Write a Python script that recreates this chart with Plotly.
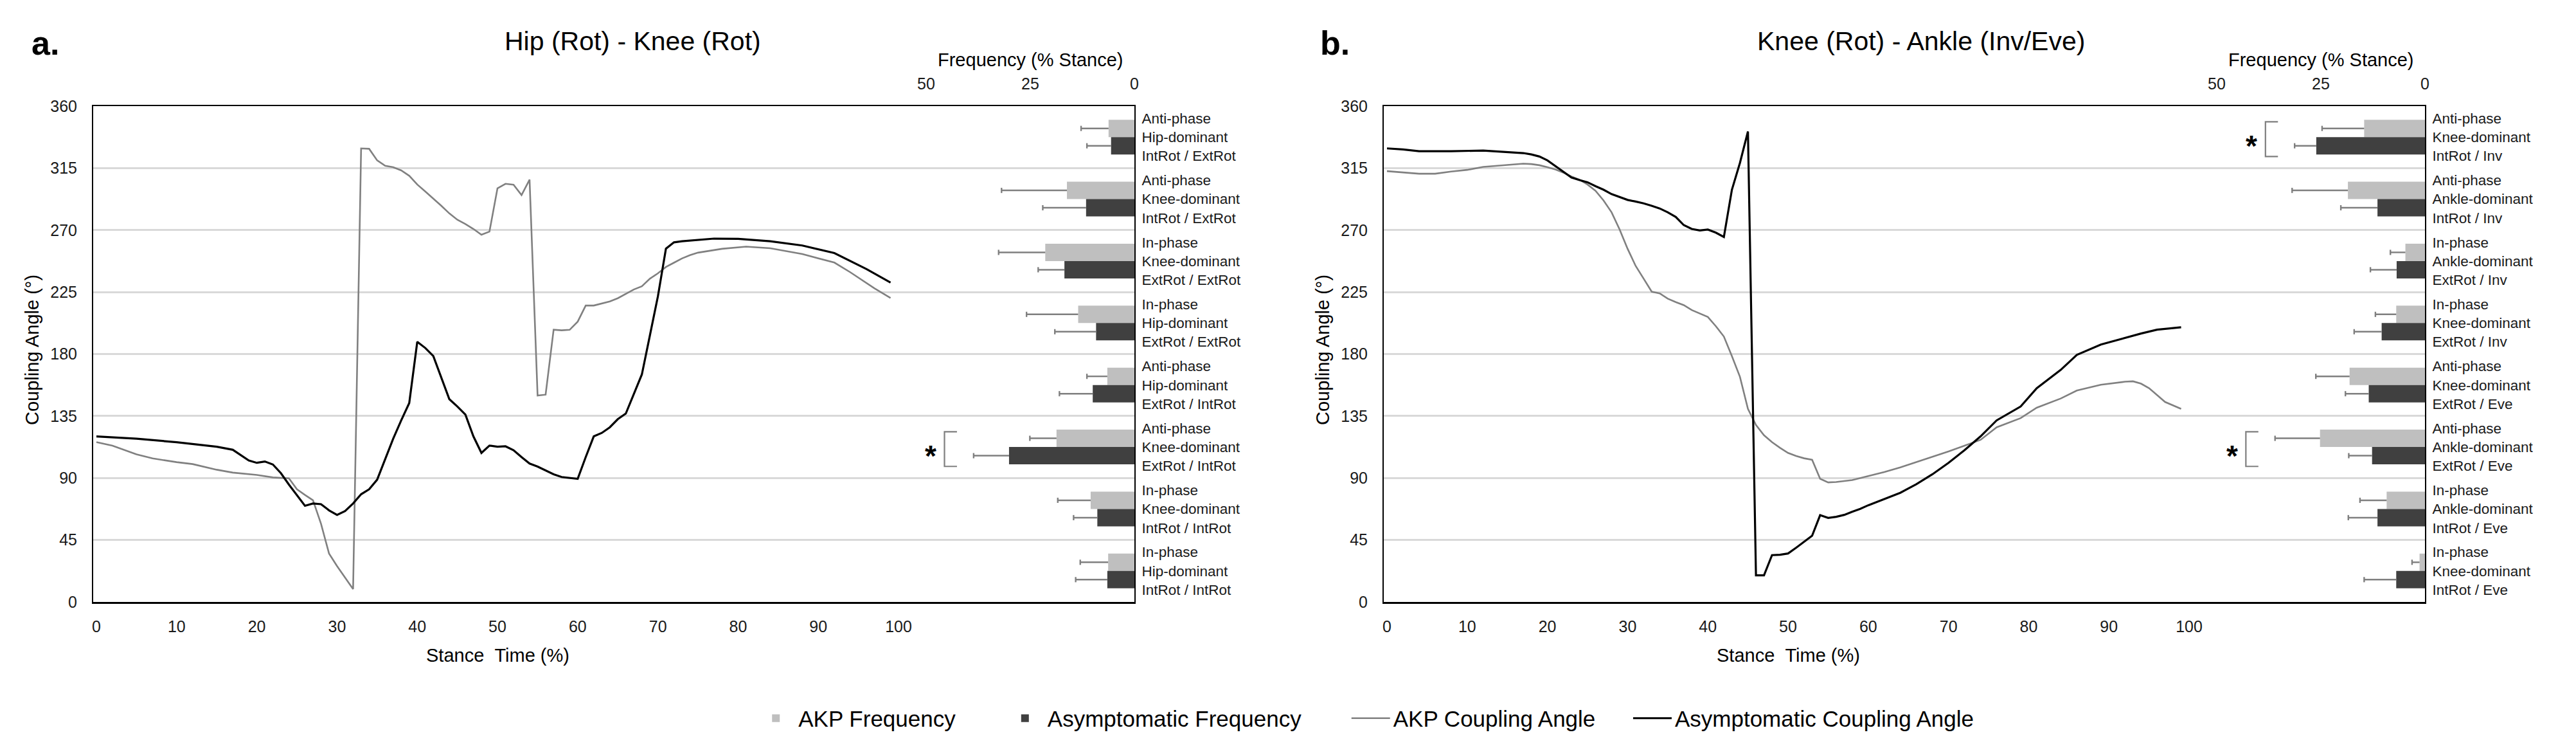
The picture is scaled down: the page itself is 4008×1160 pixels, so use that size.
import plotly.graph_objects as go

W, H = 4008, 1160

# ---------------- data ----------------
stance_ticks = list(range(0, 101, 10))
angle_ticks = list(range(0, 361, 45))
freq_ticks = [0, 25, 50]

# Panel a: Hip (Rot) - Knee (Rot) coupling angles
hk_asym_t = [0, 2, 5, 10, 15, 17, 19, 20, 21, 22, 23, 24, 25, 26, 27, 28, 29, 30, 31, 32, 33, 34, 35, 36,
             37, 38, 39, 40, 41, 42, 43, 44, 45, 46, 47, 48, 49, 50, 51, 52, 53, 54, 55, 56, 57, 58, 59,
             60, 61, 62, 63, 64, 65, 66, 67, 68, 69, 70, 71, 72, 73, 75, 77, 80, 84, 88, 92, 96, 99]
hk_asym_angle = [120.2, 119.6, 118.5, 116.0, 112.7, 110.5, 102.7, 101.0, 102.0, 99.8, 93.5, 85.2, 77.7,
                 69.8, 71.5, 71.0, 66.5, 63.2, 66.0, 71.5, 78.2, 81.8, 88.8, 103.5, 118.5, 131.8, 144.4,
                 188.9, 184.4, 178.5, 162.7, 147.2, 141.9, 136.0, 120.2, 108.2, 113.5, 112.7, 113.0, 110.2,
                 105.2, 100.5, 98.3, 95.7, 92.7, 90.7, 90.2, 89.4, 105.2, 120.2, 122.7, 126.8, 132.7, 136.8,
                 151.0, 165.2, 193.5, 221.9, 256.5, 261.1, 261.9, 263.0, 263.8, 263.6, 261.9, 258.8, 253.3,
                 241.7, 231.9]

hk_akp_t = [0, 2, 5, 7, 10, 12, 15, 17, 20, 22, 24, 25, 26, 27, 28, 29, 30, 31, 32, 33, 34, 35, 36, 37,
            38, 39, 40, 41, 42, 43, 44, 45, 46, 47, 48, 49, 50, 51, 52, 53, 54, 55, 56, 57, 58, 59, 60,
            61, 62, 63, 64, 65, 66, 67, 68, 69, 70, 71, 72, 73, 74, 75, 78, 81, 84, 88, 92, 94, 97, 99]
hk_akp_angle = [116.0, 113.5, 107.2, 104.2, 101.5, 100.1, 96.0, 93.9, 92.2, 90.4, 89.8, 81.8, 77.7, 73.8,
                56.8, 35.2, 26.0, 17.6, 9.3, 329.3, 329.0, 320.6, 316.7, 315.6, 313.3, 309.4, 303.1, 298.0,
                293.0, 287.6, 282.1, 277.5, 274.4, 270.8, 266.6, 268.9, 300.3, 303.6, 302.9, 295.4, 306.6,
                149.9, 150.5, 197.7, 197.2, 197.6, 203.5, 215.2, 215.2, 216.6, 218.2, 220.5, 223.9, 226.9,
                229.2, 234.7, 238.6, 243.2, 246.3, 249.4, 251.8, 253.6, 256.4, 258.0, 256.8, 252.6, 246.4,
                239.3, 227.7, 220.7]

# Panel b: Knee (Rot) - Ankle (Inv/Eve) coupling angles
ka_asym_t = [0, 2, 4, 8, 12, 14, 16, 17, 18, 19, 20, 21, 22, 23, 24, 25, 26, 27, 28, 29, 30, 31, 32, 33,
             34, 35, 36, 37, 38, 39, 40, 41, 42, 43, 44, 45, 46, 47, 48, 49, 50, 51, 52, 53, 54, 55, 56,
             57, 58, 59, 60, 62, 64, 66, 68, 70, 72, 74, 76, 79, 81, 84, 86, 89, 92, 94, 96, 99]
ka_asym_angle = [329.3, 328.5, 327.3, 327.3, 327.7, 327.1, 326.5, 325.9, 324.9, 323.4, 320.6, 316.4, 312.5,
                 308.1, 306.3, 304.7, 301.9, 299.3, 296.1, 293.8, 291.9, 290.7, 289.4, 287.6, 285.7, 282.9,
                 279.5, 273.6, 270.8, 269.7, 270.4, 268.1, 265.0, 299.3, 318.7, 341.6, 19.3, 19.3, 34.0,
                 34.3, 35.2, 39.3, 43.8, 48.1, 63.0, 61.0, 61.8, 63.2, 65.5, 67.6, 70.2, 74.8, 79.3, 85.5,
                 92.7, 101.0, 110.2, 120.2, 131.8, 141.9, 155.2, 168.5, 179.4, 186.9, 191.9, 194.9, 197.7,
                 199.4]

ka_akp_t = [0, 2, 4, 6, 8, 10, 12, 14, 16, 17, 18, 19, 20, 21, 22, 23, 24, 25, 26, 27, 28, 29, 30, 31, 32,
            33, 34, 35, 36, 37, 38, 39, 40, 41, 42, 43, 44, 45, 46, 47, 48, 49, 50, 51, 52, 53, 54, 55, 56,
            58, 60, 62, 64, 66, 68, 70, 72, 74, 76, 79, 81, 84, 86, 89, 92, 93, 94, 95, 96, 97, 99]
ka_akp_angle = [312.8, 311.7, 310.9, 310.9, 312.5, 313.7, 315.9, 316.8, 317.9, 318.2, 317.9, 317.1, 315.6,
                314.0, 311.7, 308.9, 306.6, 303.1, 298.5, 291.5, 282.9, 270.5, 256.4, 244.0, 234.7, 225.3,
                224.0, 220.2, 217.7, 215.5, 211.9, 209.4, 206.9, 200.2, 192.7, 178.5, 163.5, 140.2, 128.5,
                121.0, 116.0, 111.9, 108.2, 106.0, 104.3, 103.2, 89.4, 86.8, 87.1, 88.5, 91.5, 94.3, 97.7,
                101.5, 105.2, 109.3, 113.5, 117.7, 126.8, 133.5, 141.0, 147.7, 153.5, 157.7, 159.9, 160.2,
                158.5, 155.2, 150.2, 145.2, 140.2]

# Frequency (% stance) of each coupling pattern, top to bottom
hk_categories = ["Anti-phase<br>Hip-dominant<br>IntRot / ExtRot",
                 "Anti-phase<br>Knee-dominant<br>IntRot / ExtRot",
                 "In-phase<br>Knee-dominant<br>ExtRot / ExtRot",
                 "In-phase<br>Hip-dominant<br>ExtRot / ExtRot",
                 "Anti-phase<br>Hip-dominant<br>ExtRot / IntRot",
                 "Anti-phase<br>Knee-dominant<br>ExtRot / IntRot",
                 "In-phase<br>Knee-dominant<br>IntRot / IntRot",
                 "In-phase<br>Hip-dominant<br>IntRot / IntRot"]
hk_akp_freq = [6.2, 16.2, 21.4, 13.5, 6.5, 18.7, 10.5, 6.3]
hk_akp_sd = [6.6, 15.7, 11.2, 12.4, 4.9, 6.4, 7.9, 6.7]
hk_asym_freq = [5.6, 11.6, 16.8, 9.2, 10.0, 30.1, 8.9, 6.5]
hk_asym_sd = [5.8, 10.4, 6.3, 9.9, 8.0, 8.5, 5.7, 7.6]
hk_significant = [5]

ka_categories = ["Anti-phase<br>Knee-dominant<br>IntRot / Inv",
                 "Anti-phase<br>Ankle-dominant<br>IntRot / Inv",
                 "In-phase<br>Ankle-dominant<br>ExtRot / Inv",
                 "In-phase<br>Knee-dominant<br>ExtRot / Inv",
                 "Anti-phase<br>Knee-dominant<br>ExtRot / Eve",
                 "Anti-phase<br>Ankle-dominant<br>ExtRot / Eve",
                 "In-phase<br>Ankle-dominant<br>IntRot / Eve",
                 "In-phase<br>Knee-dominant<br>IntRot / Eve"]
ka_akp_freq = [14.6, 18.5, 4.7, 6.9, 18.1, 25.2, 9.2, 1.3]
ka_akp_sd = [10.1, 13.4, 3.6, 5.0, 8.1, 10.8, 6.4, 1.8]
ka_asym_freq = [26.1, 11.4, 6.8, 10.4, 13.5, 12.7, 11.4, 6.9]
ka_asym_sd = [5.2, 8.8, 6.3, 6.6, 5.6, 5.6, 7.0, 7.7]
ka_significant = [0, 5]

legend_names = ["AKP Frequency", "Asymptomatic Frequency", "AKP Coupling Angle",
                "Asymptomatic Coupling Angle"]

# ---------------- style ----------------
FONT = "Liberation Sans, Arial, sans-serif"
TXT = "#1a1a1a"
AKP_BAR = "#bfbfbf"
ASYM_BAR = "#404040"
AKP_LINE = "#808080"
ASYM_LINE = "#000000"
ERR = "#7f7f7f"
GRID = "#d9d9d9"

BAND = 45.0          # each coupling pattern occupies one 45-degree band
BAR_W = 12.6         # bar thickness in angle units
CAP = 1.9            # half-height of error-bar caps
LEG_PAD = [7, 7, 5, 0]   # spacer (nbsp count) after each legend label


def fx(px):
    return px / W


def fy(py):
    return 1 - py / H


def leg(i):
    return legend_names[i] + "&nbsp;" * LEG_PAD[i]


Y_TOP, Y_BOT = 165, 936
PANELS = [
    dict(letter="a.", letter_x=70, title="Hip (Rot) - Knee (Rot)", title_x=984, left=145,
         ylab_x=50, ax=("x", "y", "x2", "y2"),
         lines=(hk_akp_t, hk_akp_angle, hk_asym_t, hk_asym_angle),
         cats=hk_categories, bars=(hk_akp_freq, hk_akp_sd, hk_asym_freq, hk_asym_sd),
         sig=hk_significant),
    dict(letter="b.", letter_x=2077, title="Knee (Rot) - Ankle (Inv/Eve)", title_x=2989, left=2153,
         ylab_x=2058, ax=("x3", "y3", "x4", "y4"),
         lines=(ka_akp_t, ka_akp_angle, ka_asym_t, ka_asym_angle),
         cats=ka_categories, bars=(ka_akp_freq, ka_akp_sd, ka_asym_freq, ka_asym_sd),
         sig=ka_significant),
]
PW = 1620
X_RANGE = [-0.4, 129.4]
F_RANGE = [250, 0]

fig = go.Figure()
annotations = []
layout = {}

for pi, p in enumerate(PANELS):
    xa, ya, xb, yb = p["ax"]
    first = pi == 0
    akp_t, akp_a, asym_t, asym_a = p["lines"]
    akp_f, akp_sd, asym_f, asym_sd = p["bars"]
    n = len(p["cats"])
    centers = [360 - BAND * (i + 0.5) for i in range(n)]
    akp_y = [c + BAR_W / 2 for c in centers]
    asym_y = [c - BAR_W / 2 for c in centers]

    # coupling-angle lines
    fig.add_trace(go.Scatter(x=akp_t, y=akp_a, mode="lines", name=leg(2),
                             line=dict(color=AKP_LINE, width=2.6), xaxis=xa, yaxis=ya,
                             showlegend=first, legendrank=3))
    fig.add_trace(go.Scatter(x=asym_t, y=asym_a, mode="lines", name=leg(3),
                             line=dict(color=ASYM_LINE, width=3.2), xaxis=xa, yaxis=ya,
                             showlegend=first, legendrank=4))

    # frequency bars
    fig.add_trace(go.Bar(x=akp_f, y=akp_y, width=BAR_W, orientation="h", name=leg(0),
                         marker=dict(color=AKP_BAR, line=dict(width=0)), xaxis=xb, yaxis=yb,
                         showlegend=first, legendrank=1))
    fig.add_trace(go.Bar(x=asym_f, y=asym_y, width=BAR_W, orientation="h", name=leg(1),
                         marker=dict(color=ASYM_BAR, line=dict(width=0)), xaxis=xb, yaxis=yb,
                         showlegend=first, legendrank=2))

    # one-sided error bars (drawn from the data)
    ex, ey = [], []
    for vals, sds, ys in ((akp_f, akp_sd, akp_y), (asym_f, asym_sd, asym_y)):
        for v, s, yv in zip(vals, sds, ys):
            ex += [v, v + s, None, v + s, v + s, None]
            ey += [yv, yv, None, yv - CAP, yv + CAP, None]
    fig.add_trace(go.Scatter(x=ex, y=ey, mode="lines", line=dict(color=ERR, width=2.4),
                             xaxis=xb, yaxis=yb, showlegend=False, hoverinfo="skip"))

    # significance brackets
    bx, by = [], []
    for i in p["sig"]:
        xb_ = max(akp_f[i] + akp_sd[i], asym_f[i] + asym_sd[i]) + 7
        top = centers[i] + BAR_W - 1.5
        bot = centers[i] - BAR_W - 1.5
        bx += [xb_ - 3, xb_, xb_, xb_ - 3, None]
        by += [top, top, bot, bot, None]
        annotations.append(dict(x=xb_ + 3.3, y=centers[i] - 6.5, xref=xb, yref=yb, text="<b>*</b>",
                                showarrow=False, font=dict(family=FONT, size=46, color="#000"),
                                xanchor="center", yanchor="middle"))
    fig.add_trace(go.Scatter(x=bx, y=by, mode="lines", line=dict(color=ERR, width=2.2),
                             xaxis=xb, yaxis=yb, showlegend=False, hoverinfo="skip"))

    dom_x = [fx(p["left"]), fx(p["left"] + PW)]
    dom_y = [fy(Y_BOT), fy(Y_TOP)]
    sfx = lambda a: a[1:] if len(a) > 1 else ""
    layout["xaxis" + sfx(xa)] = dict(domain=dom_x, anchor=ya, range=X_RANGE, tickvals=stance_ticks,
                                     showgrid=False, zeroline=False, showline=True,
                                     linecolor="#000", linewidth=3, ticks="", ticklabelstandoff=14,
                                     tickfont=dict(family=FONT, size=25, color=TXT))
    layout["yaxis" + sfx(ya)] = dict(domain=dom_y, anchor=xa, range=[0, 360], tickvals=angle_ticks,
                                     showgrid=True, gridcolor=GRID, gridwidth=2.6, zeroline=False,
                                     showline=True, linecolor="#000", linewidth=2, ticks="",
                                     ticklabelstandoff=18,
                                     tickfont=dict(family=FONT, size=25, color=TXT))
    layout["xaxis" + sfx(xb)] = dict(overlaying=xa, anchor=yb, side="top", range=F_RANGE,
                                     tickvals=freq_ticks, showgrid=False, zeroline=False,
                                     showline=True, linecolor="#000", linewidth=2, ticks="",
                                     ticklabelstandoff=14,
                                     tickfont=dict(family=FONT, size=25, color=TXT))
    layout["yaxis" + sfx(yb)] = dict(overlaying=ya, anchor=xb, side="right", range=[0, 360],
                                     tickvals=centers, ticktext=p["cats"], showgrid=False,
                                     zeroline=False, showline=True, linecolor="#000", linewidth=2,
                                     ticks="", ticklabelstandoff=5,
                                     tickfont=dict(family=FONT, size=22.5, color=TXT))

    # texts
    annotations.append(dict(x=fx(p["letter_x"]), y=fy(67), xref="paper", yref="paper",
                            text="<b>" + p["letter"] + "</b>", showarrow=False,
                            font=dict(family=FONT, size=52, color="#000"),
                            xanchor="center", yanchor="middle"))
    annotations.append(dict(x=fx(p["title_x"]), y=fy(64), xref="paper", yref="paper",
                            text=p["title"], showarrow=False,
                            font=dict(family=FONT, size=41, color="#000"),
                            xanchor="center", yanchor="middle"))
    annotations.append(dict(x=25, y=fy(93), xref=xb, yref="paper",
                            text="Frequency (% Stance)", showarrow=False,
                            font=dict(family=FONT, size=29, color="#000"),
                            xanchor="center", yanchor="middle"))
    annotations.append(dict(x=50, y=fy(1019), xref=xa, yref="paper",
                            text="Stance&nbsp;&nbsp;Time (%)", showarrow=False,
                            font=dict(family=FONT, size=29, color="#000"),
                            xanchor="center", yanchor="middle"))
    annotations.append(dict(x=fx(p["ylab_x"]), y=fy(544), xref="paper", yref="paper",
                            text="Coupling Angle (°)", showarrow=False, textangle=-90,
                            font=dict(family=FONT, size=29, color="#000"),
                            xanchor="center", yanchor="middle"))

fig.update_layout(
    **layout,
    width=W, height=H,
    margin=dict(l=0, r=0, t=0, b=0, pad=0, autoexpand=False),
    paper_bgcolor="#ffffff", plot_bgcolor="#ffffff",
    barmode="overlay",
    annotations=annotations,
    showlegend=True,
    legend=dict(orientation="h", x=0.530, xanchor="center", y=fy(1117), yanchor="middle",
                font=dict(family=FONT, size=35, color="#000"), itemwidth=60,
                traceorder="normal", bgcolor="rgba(0,0,0,0)"),
    font=dict(family=FONT, color=TXT),
)

fig.write_html("out.html", config={"displayModeBar": False},
               post_script="document.body.style.margin='0';document.body.style.padding='0';")
